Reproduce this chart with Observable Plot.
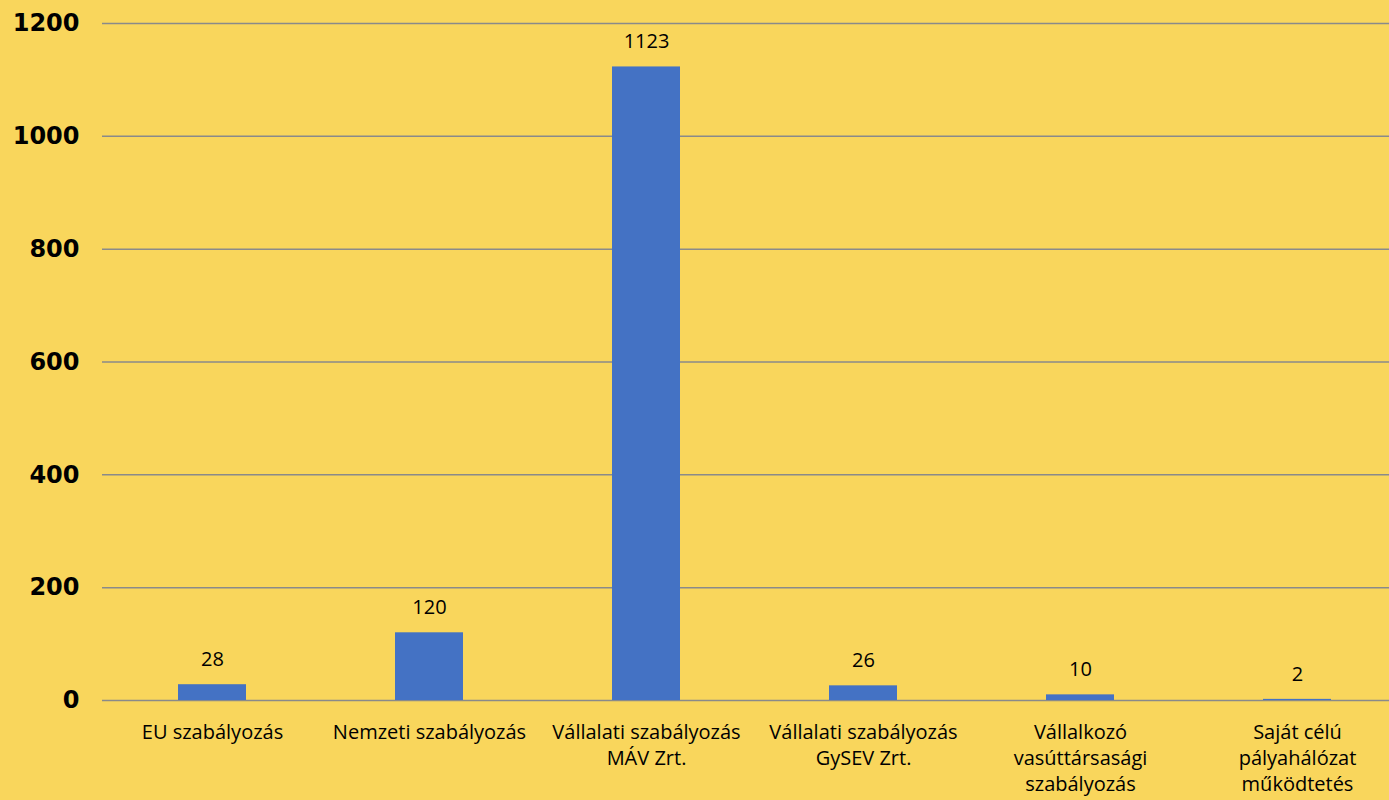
<!DOCTYPE html>
<html>
<head>
<meta charset="utf-8">
<script src="https://cdn.jsdelivr.net/npm/d3@7"></script>
<script src="https://cdn.jsdelivr.net/npm/@observablehq/plot@0.6"></script>
<style>
  html, body { margin: 0; padding: 0; background: #F9D65C; }
  #chart svg { display: block; background: #F9D65C; }
</style>
</head>
<body>
<div id="chart"></div>
<script>
const categories = [
  "EU szabályozás",
  "Nemzeti szabályozás",
  "Vállalati szabályozás\nMÁV Zrt.",
  "Vállalati szabályozás\nGySEV Zrt.",
  "Vállalkozó\nvasúttársasági\nszabályozás",
  "Saját célú\npályahálózat\nműködtetés"
];
const values = [28, 120, 1123, 26, 10, 2];
const yTicks = [0, 200, 400, 600, 800, 1000, 1200];

const data = categories.map((c, i) => ({category: c, value: values[i]}));

const chart = Plot.plot({
  width: 1389,
  height: 800,
  marginLeft: 102,
  marginRight: 0,
  marginTop: 23,
  marginBottom: 100,
  style: {background: "#F9D65C", fontFamily: "'Open Sans', sans-serif", color: "#000"},
  x: {domain: categories, range: [102, 1407], paddingInner: 0.687, paddingOuter: 0.3435, label: null},
  y: {domain: [0, 1200], label: null},
  marks: [
    Plot.ruleY(yTicks, {stroke: "#8a8a8a", strokeWidth: 1.5}),
    Plot.barY(data, {x: "category", y: "value", fill: "#4472C4"}),
    Plot.text(data, {x: "category", y: "value", text: d => String(d.value), dy: -25, fontSize: 20, fill: "#000"}),
    Plot.axisY({ticks: yTicks, tickFormat: d => String(d), tickSize: 0, tickPadding: 23, fontSize: 24, fontWeight: "bold", fontFamily: "'DejaVu Sans', sans-serif", label: null}),
    Plot.axisX({tickSize: 0, tickPadding: 20, fontSize: 20, lineHeight: 1.3, label: null})
  ]
});
document.getElementById("chart").appendChild(chart);
</script>
</body>
</html>
